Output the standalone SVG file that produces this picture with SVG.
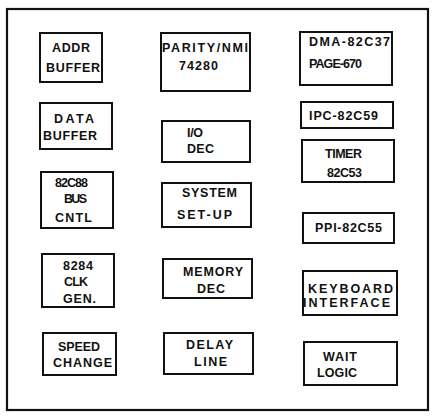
<svg xmlns="http://www.w3.org/2000/svg" width="437" height="416" viewBox="0 0 437 416">
<style>
.frame{fill:none;stroke:#111;stroke-width:2.2}
.box{fill:#fff;stroke:#111;stroke-width:2}
text{font-family:"Liberation Sans",Arial,sans-serif;font-size:12.5px;font-weight:bold;fill:#111}
</style>
<rect width="437" height="416" fill="#fff"/>
<rect class="frame" x="7" y="9" width="421" height="401"/>
<g id="connectors"/>
<g id="addr-buffer"><rect class="box" x="40" y="33" width="62" height="49"/>
<text x="52" y="52" textLength="38" lengthAdjust="spacing">ADDR</text>
<text x="46" y="72" textLength="54" lengthAdjust="spacing">BUFFER</text></g>
<g id="data-buffer"><rect class="box" x="40" y="103" width="72" height="46"/>
<text x="54" y="123" textLength="40" lengthAdjust="spacing">DATA</text>
<text x="43" y="140" textLength="54" lengthAdjust="spacing">BUFFER</text></g>
<g id="bus-cntl"><rect class="box" x="41" y="172" width="72" height="56"/>
<text x="55" y="187" textLength="33" lengthAdjust="spacing">82C88</text>
<text x="64" y="203" textLength="23" lengthAdjust="spacing">BUS</text>
<text x="55" y="222" textLength="37" lengthAdjust="spacing">CNTL</text></g>
<g id="clk-gen"><rect class="box" x="42" y="254" width="72" height="53"/>
<text x="63" y="270" textLength="30" lengthAdjust="spacing">8284</text>
<text x="64" y="286" textLength="24" lengthAdjust="spacing">CLK</text>
<text x="63" y="303" textLength="33" lengthAdjust="spacing">GEN.</text></g>
<g id="speed-change"><rect class="box" x="43" y="333" width="73" height="42"/>
<text x="58" y="351" textLength="42" lengthAdjust="spacing">SPEED</text>
<text x="53" y="367" textLength="59" lengthAdjust="spacing">CHANGE</text></g>
<g id="parity"><rect class="box" x="161" y="33" width="89" height="58"/>
<text x="162" y="52" textLength="86" lengthAdjust="spacing">PARITY/NMI</text>
<text x="179" y="70" textLength="39" lengthAdjust="spacing">74280</text></g>
<g id="io-dec"><rect class="box" x="162" y="121" width="88" height="41"/>
<text x="187" y="137" textLength="16" lengthAdjust="spacing">I/O</text>
<text x="187" y="153" textLength="27" lengthAdjust="spacing">DEC</text></g>
<g id="system-setup"><rect class="box" x="162" y="183" width="89" height="44"/>
<text x="182" y="197" textLength="55" lengthAdjust="spacing">SYSTEM</text>
<text x="177" y="219" textLength="55" lengthAdjust="spacing">SET-UP</text></g>
<g id="memory-dec"><rect class="box" x="163" y="259" width="89" height="39"/>
<text x="183" y="276" textLength="60" lengthAdjust="spacing">MEMORY</text>
<text x="197" y="293" textLength="28" lengthAdjust="spacing">DEC</text></g>
<g id="delay-line"><rect class="box" x="164" y="333" width="89" height="41"/>
<text x="186" y="349" textLength="47" lengthAdjust="spacing">DELAY</text>
<text x="194" y="366" textLength="33" lengthAdjust="spacing">LINE</text></g>
<g id="dma"><rect class="box" x="300" y="32" width="92" height="53"/>
<text x="309" y="46" textLength="81" lengthAdjust="spacing">DMA-82C37</text>
<text x="309" y="68" textLength="53" lengthAdjust="spacing">PAGE-670</text></g>
<g id="ipc"><rect class="box" x="301" y="102" width="92" height="26"/>
<text x="309" y="120" textLength="69" lengthAdjust="spacing">IPC-82C59</text></g>
<g id="timer"><rect class="box" x="302" y="140" width="92" height="42"/>
<text x="325" y="158" textLength="37" lengthAdjust="spacing">TIMER</text>
<text x="327" y="177" textLength="35" lengthAdjust="spacing">82C53</text></g>
<g id="ppi"><rect class="box" x="303" y="213" width="91" height="30"/>
<text x="315" y="232" textLength="67" lengthAdjust="spacing">PPI-82C55</text></g>
<g id="keyboard"><rect class="box" x="303" y="271" width="94" height="44"/>
<text x="308" y="293" textLength="85" lengthAdjust="spacing">KEYBOARD</text>
<text x="303" y="307" textLength="87" lengthAdjust="spacing">INTERFACE</text></g>
<g id="wait-logic"><rect class="box" x="304" y="342" width="93" height="43"/>
<text x="323" y="361" textLength="34" lengthAdjust="spacing">WAIT</text>
<text x="317" y="377" textLength="40" lengthAdjust="spacing">LOGIC</text></g>
</svg>
